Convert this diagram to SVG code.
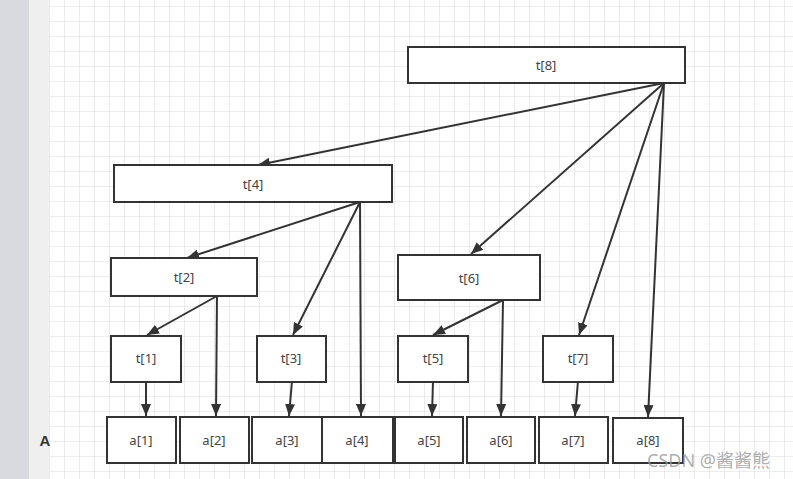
<svg xmlns="http://www.w3.org/2000/svg" width="793" height="479" viewBox="0 0 793 479">
<defs>
<pattern id="grid" x="4" y="6" width="15" height="15" patternUnits="userSpaceOnUse">
<path d="M0 0H15M0 0V15" stroke="#dedede" stroke-width="1.2" fill="none"/>
</pattern>
<marker id="ah" viewBox="0 0 12 10" refX="12" refY="5" markerWidth="12" markerHeight="10" markerUnits="userSpaceOnUse" orient="auto">
<path d="M0 0L12 5L0 10Z" fill="#333"/>
</marker>
<style>
.n rect{fill:#fff;stroke:#333;stroke-width:2}
.n text{font-family:"Noto Sans","Open Sans",sans-serif;font-size:13px;fill:#444;text-anchor:middle;dominant-baseline:central}
#edges line{stroke:#333;stroke-width:2;marker-end:url(#ah)}
</style>
</defs>
<rect x="0" y="0" width="793" height="479" fill="#fff"/>
<rect x="0" y="0" width="29" height="479" fill="#d9dadf"/>
<rect x="29" y="0" width="20" height="479" fill="#efefef"/>
<rect x="49" y="0" width="744" height="479" fill="url(#grid)"/>
<g id="edges">
<line x1="664" y1="83" x2="258" y2="165"/>
<line x1="664" y1="83" x2="471" y2="254"/>
<line x1="664" y1="83" x2="579" y2="335"/>
<line x1="664" y1="83" x2="648" y2="417"/>
<line x1="360" y1="202" x2="187" y2="258"/>
<line x1="360" y1="202" x2="293" y2="335"/>
<line x1="360" y1="202" x2="361" y2="416"/>
<line x1="217" y1="296" x2="147" y2="335"/>
<line x1="217" y1="296" x2="216" y2="416"/>
<line x1="503" y1="300" x2="433" y2="335"/>
<line x1="503" y1="300" x2="501" y2="416"/>
<line x1="146" y1="381" x2="146" y2="416"/>
<line x1="292" y1="381" x2="289" y2="416"/>
<line x1="433" y1="381" x2="432" y2="416"/>
<line x1="578" y1="381" x2="575" y2="416"/>
</g>
<g id="t8" class="n"><rect x="408" y="47" width="277" height="36"/><text x="546" y="65">t[8]</text></g>
<g id="t4" class="n"><rect x="114" y="165" width="278" height="37"/><text x="253" y="184">t[4]</text></g>
<g id="t2" class="n"><rect x="111" y="258" width="146" height="38"/><text x="184" y="277">t[2]</text></g>
<g id="t6" class="n"><rect x="398" y="255" width="142" height="45"/><text x="469" y="278">t[6]</text></g>
<g id="t1" class="n"><rect x="111" y="336" width="70" height="46"/><text x="146" y="358">t[1]</text></g>
<g id="t3" class="n"><rect x="257" y="336" width="69" height="46"/><text x="291" y="358">t[3]</text></g>
<g id="t5" class="n"><rect x="398" y="336" width="70" height="46"/><text x="433" y="358">t[5]</text></g>
<g id="t7" class="n"><rect x="543" y="336" width="70" height="46"/><text x="578" y="358">t[7]</text></g>
<g id="a1" class="n"><rect x="107" y="417" width="69" height="46"/><text x="141" y="440">a[1]</text></g>
<g id="a2" class="n"><rect x="180" y="417" width="69" height="46"/><text x="214" y="440">a[2]</text></g>
<g id="a3" class="n"><rect x="252" y="417" width="70" height="46"/><text x="287" y="440">a[3]</text></g>
<g id="a4" class="n"><rect x="322" y="417" width="71" height="46"/><text x="357" y="440">a[4]</text></g>
<g id="a5" class="n"><rect x="395" y="417" width="68" height="46"/><text x="429" y="440">a[5]</text></g>
<g id="a6" class="n"><rect x="467" y="417" width="68" height="46"/><text x="501" y="440">a[6]</text></g>
<g id="a7" class="n"><rect x="539" y="417" width="69" height="46"/><text x="573" y="440">a[7]</text></g>
<g id="a8" class="n"><rect x="613" y="418" width="70" height="45"/><text x="648" y="440">a[8]</text></g>
<text x="45" y="446" font-family="Liberation Sans, Arial, sans-serif" font-size="15" font-weight="bold" fill="#333" text-anchor="middle">A</text>
<text x="647" y="467" font-family="Noto Sans, Noto Sans CJK SC, sans-serif" font-size="18" fill="#999" fill-opacity="0.8">CSDN @酱酱熊</text>
</svg>
